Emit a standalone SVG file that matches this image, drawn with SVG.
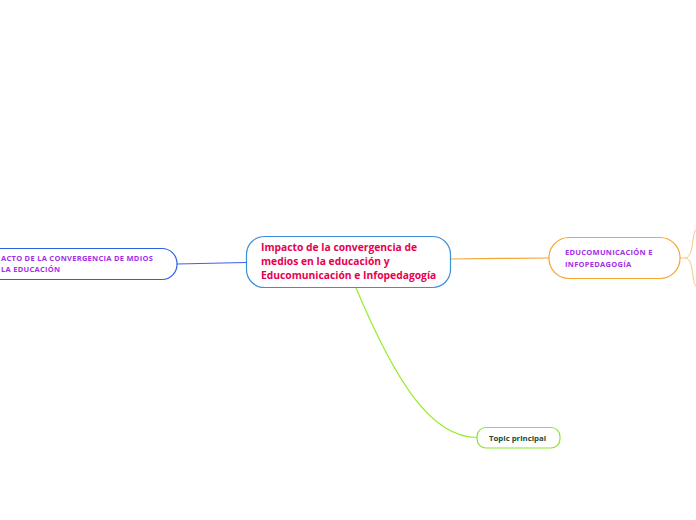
<svg xmlns="http://www.w3.org/2000/svg" width="696" height="520" viewBox="0 0 696 520">
<style>
.t{font-family:"Open Sans","Noto Sans","Liberation Sans",sans-serif;font-weight:bold}
.main{fill:#e8004f;font-size:10.3px}
.sub{fill:#a42ee8;font-size:7.5px;letter-spacing:0.28px}
.tp{fill:#24483a;font-size:7.8px}
.c{fill:none}
</style>
<rect width="696" height="520" fill="#ffffff"/>
<g id="connectors" class="c">
<path d="M177,264 L246,262.5" stroke="#3a63e6" stroke-width="1.2"/>
<path d="M451,259 C480,258.5 520,258.3 549,258" stroke="#f5a534" stroke-width="1.2"/>
<path d="M356,288 C395,380 430,437 477,437.5" stroke="#98ec2c" stroke-width="1.2"/>
<path d="M680,258 L685,258 C690,258 692,250 693,240 C694,233 695,230 697,229" stroke="#f8c77c" stroke-width="1"/>
<path d="M685,258 C690,258 692,266 693,276 C694,283 695,286 697,287" stroke="#f8c77c" stroke-width="1"/>
</g>
<g id="node-main">
<rect x="246.5" y="236.5" width="204" height="51" rx="18" fill="#ffffff" stroke="#3b8ed8" stroke-width="1.2"/>
<text class="t main" x="261" y="251">Impacto de la convergencia de</text>
<text class="t main" x="261" y="265">medios en la educación y</text>
<text class="t main" x="261" y="279">Educomunicación e Infopedagogía</text>
</g>
<g id="node-left">
<rect x="-30" y="248.5" width="207" height="31" rx="15" fill="#ffffff" stroke="#2f5fe3" stroke-width="1.2"/>
<text class="t sub" x="1" y="261">ACTO DE LA CONVERGENCIA DE MDIOS</text>
<text class="t sub" x="1" y="272">LA EDUCACIÓN</text>
</g>
<g id="node-right">
<rect x="549" y="237.5" width="131" height="41" rx="20" fill="#ffffff" stroke="#f5a534" stroke-width="1.2"/>
<text class="t sub" x="565" y="255">EDUCOMUNICACIÓN E</text>
<text class="t sub" x="565" y="267">INFOPEDAGOGÍA</text>
</g>
<g id="node-topic">
<rect x="477" y="427.5" width="83" height="20.5" rx="9" fill="#ffffff" stroke="#8ee62a" stroke-width="1.2"/>
<text class="t tp" x="489" y="441">Topic principal</text>
</g>
</svg>
